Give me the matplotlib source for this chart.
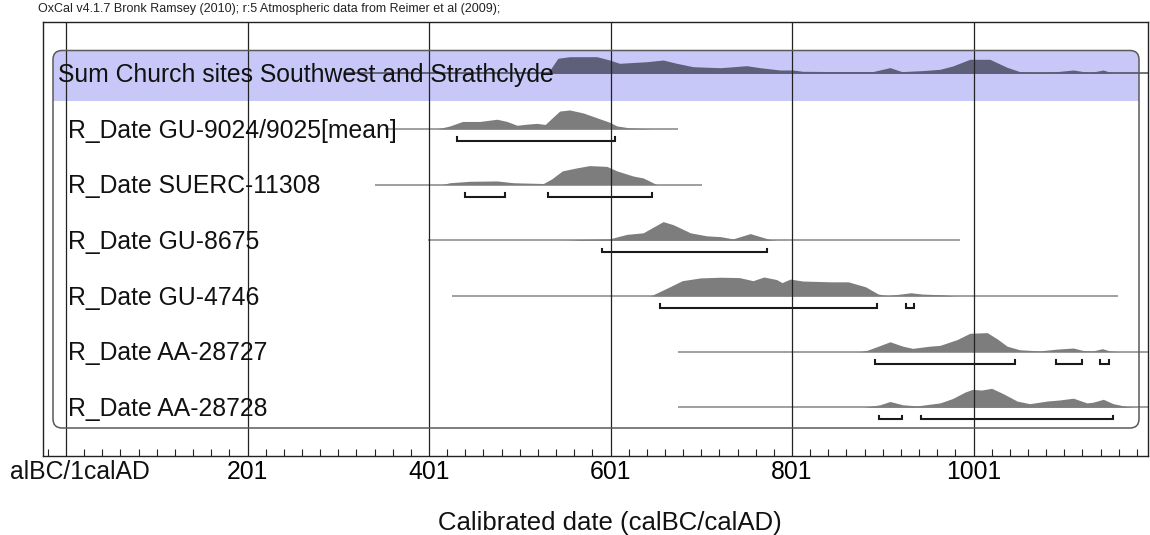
import numpy as np
import matplotlib
matplotlib.use("Agg")
import matplotlib.pyplot as plt
from matplotlib.patches import FancyBboxPatch, Rectangle
from matplotlib.transforms import IdentityTransform
from matplotlib.ticker import FixedLocator

plt.rcParams['font.family'] = ['Liberation Sans', 'DejaVu Sans']

# ---------------- data ----------------
title_text = "OxCal v4.1.7 Bronk Ramsey (2010); r:5 Atmospheric data from Reimer et al (2009);"
labels = ["Sum Church sites Southwest and Strathclyde",
          "R_Date GU-9024/9025[mean]",
          "R_Date SUERC-11308",
          "R_Date GU-8675",
          "R_Date GU-4746",
          "R_Date AA-28727",
          "R_Date AA-28728"]

# extent of the thin baseline line for each row (cal AD)
line_start = [308, 352, 341, 400, 426, 675, 675]
line_end = [1200, 675, 702, 986, 1160, 1200, 1200]

# probability distributions (year, relative probability)
sum_years = [528, 534, 543, 556, 586, 600, 611, 641, 659, 674, 692, 722, 751, 766, 788, 802, 813,
             853, 890, 909, 922, 945, 964, 978, 997, 1019, 1038, 1052, 1074, 1093, 1111, 1129, 1144, 1155]
sum_prob = [0, 3, 15, 16.6, 16.6, 13.3, 10, 11.6, 13.3, 10, 6.6, 5.6, 7.6, 5.6, 3.3, 3.3, 2,
            1.7, 1.7, 5.7, 1.7, 2.7, 4, 7.3, 14, 14, 6, 1.7, 0.7, 1.7, 3.3, 0.7, 3.3, 0]

gu9024_years = [410, 424, 438, 457, 476, 487, 498, 509, 520, 529, 536, 545, 556, 571, 586, 600, 608, 622, 648]
gu9024_prob = [0, 2.7, 6.7, 6.7, 8.7, 6.7, 3.3, 4.3, 5, 4, 9.3, 16, 17, 14.3, 10, 6, 2.7, 1, 0]

suerc_years = [415, 424, 446, 476, 494, 527, 536, 548, 564, 578, 597, 608, 626, 637, 652]
suerc_prob = [0, 1.7, 3, 3.3, 1.7, 1, 5, 12.3, 15, 17, 16.3, 12.3, 7.7, 6, 0]

gu8675_years = [550, 567, 600, 619, 637, 648, 659, 670, 689, 707, 722, 736, 755, 766, 777, 785]
gu8675_prob = [0, 0.7, 1.3, 5.3, 6.7, 11.7, 16.7, 14, 6.7, 4, 3.3, 1.3, 6, 3.3, 0.7, 0]

gu4746_years = [645, 663, 680, 700, 722, 743, 758, 770, 784, 790, 799, 813, 844, 863, 882, 896, 906,
                921, 932, 944, 967, 980]
gu4746_prob = [0, 6.7, 13.3, 15.7, 16.3, 16, 13.3, 16.5, 14.3, 11.6, 14.7, 13, 12.3, 12.3, 8, 1.7, 0.3,
               1.7, 2.8, 1.7, 1, 0]

aa28727_years = [875, 883, 894, 909, 923, 934, 953, 964, 983, 997, 1016, 1027, 1038, 1052, 1074, 1093,
                 1111, 1122, 1133, 1143, 1151, 1162]
aa28727_prob = [0, 1, 4.3, 9, 5, 3, 5, 5.7, 11, 16.7, 17.3, 11.7, 5, 1.7, 0.7, 2.3,
                3.3, 1, 0.7, 2.7, 0.7, 0]

aa28728_years = [880, 898, 909, 923, 939, 964, 978, 992, 1000, 1010, 1021, 1034, 1049, 1063, 1082, 1096,
                 1111, 1126, 1133, 1144, 1155, 1170, 1181]
aa28728_prob = [0, 2.3, 5.3, 2.3, 1.3, 4, 8, 14, 16.3, 15.7, 17.3, 12.3, 5.7, 3.3, 5.7, 6.7,
                8.3, 4, 4.7, 7.3, 3.3, 0.7, 0]

dist_years = [sum_years, gu9024_years, suerc_years, gu8675_years, gu4746_years, aa28727_years, aa28728_years]
dist_prob = [sum_prob, gu9024_prob, suerc_prob, gu8675_prob, gu4746_prob, aa28727_prob, aa28728_prob]

# 95.4% ranges (brackets) per row
ranges = [[],
          [(432, 606)],
          [(441, 485), (532, 647)],
          [(592, 773)],
          [(656, 895), (927, 935)],
          [(892, 1047), (1092, 1121), (1140, 1150)],
          [(897, 922), (943, 1155)]]

major_ticks = [1, 201, 401, 601, 801, 1001]
major_labels = ["alBC/1calAD", "201", "401", "601", "801", "1001"]
xlabel = "Calibrated date (calBC/calAD)"

# ---------------- figure ----------------
W, H = 1150, 535
fig = plt.figure(figsize=(W / 100, H / 100), dpi=100)
ax_l, ax_r, ax_t, ax_b = 42.7, 1147.5, 22, 455.7
ax = fig.add_axes([ax_l / W, 1 - ax_b / H, (ax_r - ax_l) / W, (ax_b - ax_t) / H])

px_per_year = 0.9075
xmin = 1 + (ax_l - 66) / px_per_year
xmax = 1 + (ax_r - 66) / px_per_year
ax.set_xlim(xmin, xmax)

row0_px, row_step = 73.3, 55.67
ax.set_ylim((ax_b - row0_px) / row_step, (ax_t - row0_px) / row_step)
unit = 1.0 / row_step  # one pixel in y data units
height_gain = [1.0, 1.12, 1.12, 1.12, 1.15, 1.1, 1.1]

# rounded frame and blue band (display pixels)
def to_disp(xpx, ypx):
    return xpx, H - ypx

bx0, by0 = to_disp(53, 428)
bx1, by1 = to_disp(1139, 50.5)
frame = FancyBboxPatch((bx0, by0), bx1 - bx0, by1 - by0,
                       boxstyle="round,pad=0,rounding_size=9",
                       transform=IdentityTransform(), facecolor='none',
                       edgecolor='#5a5a5a', linewidth=1.1, zorder=6)
band_x0, band_y0 = to_disp(53, 100.5)
band = Rectangle((band_x0, band_y0), 1139 - 53, 100.5 - 50.5,
                 transform=IdentityTransform(), facecolor='#c8c8f8',
                 edgecolor='none', zorder=1)
clipper = FancyBboxPatch((bx0, by0), bx1 - bx0, by1 - by0,
                         boxstyle="round,pad=0,rounding_size=9",
                         transform=IdentityTransform(), facecolor='none', edgecolor='none')
ax.add_patch(band)
band.set_clip_path(clipper)
ax.add_patch(frame)

# distributions
for i, (yrs, pr) in enumerate(zip(dist_years, dist_prob)):
    yrs = np.asarray(yrs, float)
    pr = np.asarray(pr, float)
    col = '#5e6079' if i == 0 else '#7d7d7d'
    lcol = '#4a4a55' if i == 0 else '#858585'
    ax.plot([line_start[i], line_end[i]], [i, i], color=lcol, lw=1.1, zorder=2,
            solid_capstyle='butt')
    ax.fill_between(yrs, i, i - pr * unit * height_gain[i], color=col, lw=0, zorder=3)
    for (a, b) in ranges[i]:
        yb = i + 12 * unit
        t = 3.5 * unit
        ax.plot([a, a, b, b], [yb - t, yb, yb, yb - t], color='#1a1a1a', lw=1.5, zorder=4,
                solid_joinstyle='miter')

# gridlines
for t in major_ticks:
    ax.axvline(t, color='#222222', lw=0.9, zorder=5)

# row labels
for i, lab in enumerate(labels):
    xp = 58 if i == 0 else 68
    ax.text(1 + (xp - 66) / px_per_year, i + 8.8 * unit, lab, fontsize=17.8,
            color='#111111', va='baseline', ha='left', zorder=7)

# axis ticks
ax.xaxis.set_major_locator(FixedLocator(major_ticks))
ax.xaxis.set_minor_locator(FixedLocator(np.arange(-19, 1190, 20)))
ax.set_xticklabels([""] + major_labels[1:])
ax.tick_params(axis='x', which='both', direction='in', length=5, width=0.8,
               color='#222222', labelsize=17.8, pad=3, top=False)
ax.tick_params(axis='x', which='major', length=0)
ax.annotate(major_labels[0], xy=(major_ticks[0], 0), xycoords=ax.get_xaxis_transform(),
            xytext=(14, -4), textcoords='offset pixels', ha='center', va='top',
            fontsize=17.8, color='#111111')
ax.set_yticks([])
for s in ax.spines.values():
    s.set_color('#222222')
    s.set_linewidth(1.0)
    s.set_zorder(8)

ax.set_xlabel(xlabel, fontsize=18.5, color='#111111')
ax.xaxis.set_label_coords((610 - ax_l) / (ax_r - ax_l), -(523 - ax_b) / (ax_b - ax_t))
ax.xaxis.label.set_va('center')

fig.text(38 / W, 1 - 9 / H, title_text, fontsize=9, va='center', ha='left', color='#222222')

fig.savefig("out.png", dpi=100)
